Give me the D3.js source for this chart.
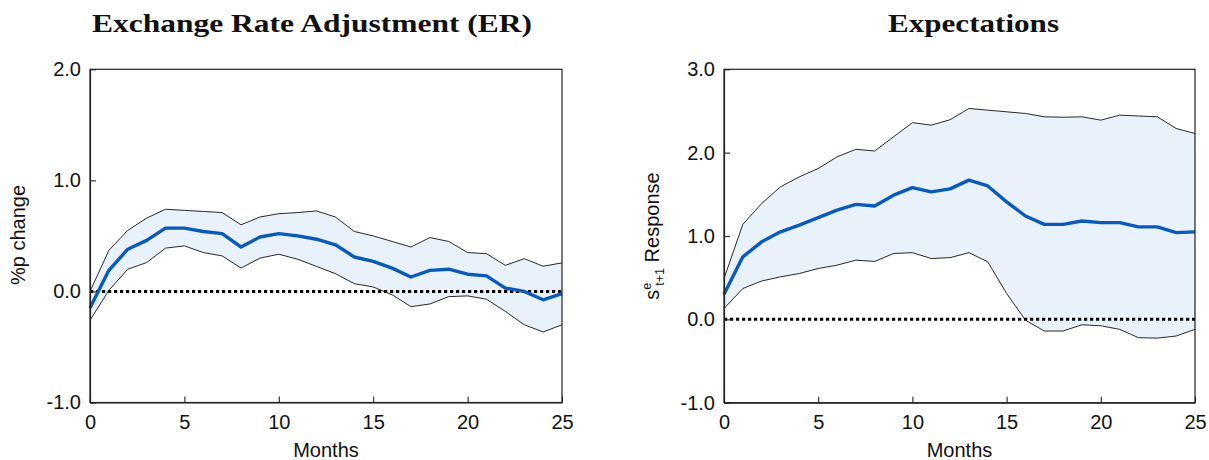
<!DOCTYPE html>
<html>
<head>
<meta charset="utf-8">
<script src="https://cdn.jsdelivr.net/npm/d3@7"></script>
<style>
  html, body { margin: 0; padding: 0; background: #fff; }
  svg { display: block; }
  .tick text { font-family: "Liberation Sans", Arial, sans-serif; font-size: 20px; fill: #111; }
</style>
</head>
<body>
<svg id="chart" width="1209" height="460"></svg>
<script>
// ---------- data ----------
const months = [0,1,2,3,4,5,6,7,8,9,10,11,12,13,14,15,16,17,18,19,20,21,22,23,24,25];
const xTicks = [0, 5, 10, 15, 20, 25];

const erYTicks = [-1, 0, 1, 2];
const erMean  = [-0.15, 0.19, 0.38, 0.46, 0.57, 0.57, 0.54, 0.52, 0.40, 0.49, 0.52, 0.50, 0.47, 0.42, 0.31, 0.27, 0.21, 0.13, 0.19, 0.20, 0.155, 0.14, 0.03, 0.0, -0.075, -0.02];
const erUpper = [0.0, 0.37, 0.55, 0.66, 0.74, 0.73, 0.72, 0.71, 0.60, 0.67, 0.70, 0.71, 0.725, 0.67, 0.54, 0.50, 0.45, 0.40, 0.485, 0.45, 0.35, 0.34, 0.235, 0.295, 0.227, 0.257];
const erLower = [-0.26, 0.01, 0.20, 0.26, 0.39, 0.41, 0.35, 0.32, 0.21, 0.30, 0.335, 0.29, 0.225, 0.16, 0.07, 0.04, -0.03, -0.137, -0.113, -0.047, -0.04, -0.07, -0.18, -0.30, -0.365, -0.30];

const expYTicks = [-1, 0, 1, 2, 3];
const expMean  = [0.30, 0.75, 0.93, 1.05, 1.13, 1.22, 1.31, 1.38, 1.36, 1.49, 1.58, 1.53, 1.565, 1.67, 1.60, 1.41, 1.24, 1.14, 1.14, 1.18, 1.16, 1.16, 1.11, 1.11, 1.04, 1.05];
const expUpper = [0.49, 1.14, 1.39, 1.59, 1.71, 1.81, 1.95, 2.04, 2.02, 2.19, 2.36, 2.33, 2.395, 2.53, 2.51, 2.49, 2.47, 2.43, 2.425, 2.43, 2.39, 2.45, 2.44, 2.43, 2.29, 2.23];
const expLower = [0.13, 0.37, 0.46, 0.51, 0.55, 0.61, 0.65, 0.71, 0.695, 0.79, 0.80, 0.73, 0.74, 0.80, 0.69, 0.31, -0.01, -0.14, -0.14, -0.065, -0.077, -0.12, -0.22, -0.225, -0.20, -0.12];

const titles = ["Exchange Rate Adjustment (ER)", "Expectations"];
const xLabel = "Months";

// ---------- layout ----------
const svg = d3.select("#chart");
const SANS = '"Liberation Sans", Arial, sans-serif';

const panels = [
  { left: 90, right: 562, top: 69.3, bottom: 402.5, yDomain: [-1, 2], yTicks: erYTicks,
    mean: erMean, upper: erUpper, lower: erLower, title: titles[0], titleX: 312, titleW: 440 },
  { left: 724, right: 1195, top: 69.3, bottom: 402.7, yDomain: [-1, 3], yTicks: expYTicks,
    mean: expMean, upper: expUpper, lower: expLower, title: titles[1], titleX: 973.5, titleW: 171 }
];

panels.forEach((p, pi) => {
  const x = d3.scaleLinear().domain([0, 25]).range([p.left, p.right]);
  const y = d3.scaleLinear().domain(p.yDomain).range([p.bottom, p.top]);
  const g = svg.append("g");

  const rows = months.map((m, i) => ({ m, mean: p.mean[i], up: p.upper[i], lo: p.lower[i] }));

  // band
  g.append("path").datum(rows)
    .attr("fill", "#e9f1fa")
    .attr("d", d3.area().x(d => x(d.m)).y0(d => y(d.lo)).y1(d => y(d.up)));

  // zero line
  g.append("line")
    .attr("x1", x(0)).attr("x2", x(25)).attr("y1", y(0)).attr("y2", y(0))
    .attr("stroke", "#000").attr("stroke-width", 3).attr("stroke-dasharray", "3.2,2.8");

  // band edges
  [d => d.up, d => d.lo].forEach(acc => {
    g.append("path").datum(rows)
      .attr("fill", "none").attr("stroke", "#111").attr("stroke-width", 0.9)
      .attr("d", d3.line().x(d => x(d.m)).y(d => y(acc(d))));
  });

  // mean
  g.append("path").datum(rows)
    .attr("fill", "none").attr("stroke", "#0a5bb8").attr("stroke-width", 3.4)
    .attr("stroke-linejoin", "round")
    .attr("d", d3.line().x(d => x(d.m)).y(d => y(d.mean)));

  // frame
  g.append("rect")
    .attr("x", p.left).attr("y", p.top)
    .attr("width", p.right - p.left).attr("height", p.bottom - p.top)
    .attr("fill", "none").attr("stroke", "#222").attr("stroke-width", 1.2);

  // axes
  const yAxis = d3.axisLeft(y).tickValues(p.yTicks).tickFormat(d => d.toFixed(1))
    .tickSizeInner(-6).tickSizeOuter(0).tickPadding(9);
  const ya = g.append("g").attr("transform", `translate(${p.left},0)`).call(yAxis);
  ya.select(".domain").attr("stroke", "#222").attr("stroke-width", 1.2);
  ya.selectAll(".tick line").attr("stroke", "#222").attr("stroke-width", 1.1);

  const xAxis = d3.axisBottom(x).tickValues(xTicks).tickFormat(d => d)
    .tickSizeInner(-6).tickSizeOuter(0).tickPadding(12);
  const xa = g.append("g").attr("transform", `translate(0,${p.bottom})`).call(xAxis);
  xa.select(".domain").attr("stroke", "#222").attr("stroke-width", 1.2);
  xa.selectAll(".tick line").attr("stroke", "#222").attr("stroke-width", 1.1);
  xa.selectAll(".tick text").attr("dy", "0.71em");

  // x label
  g.append("text")
    .attr("x", (p.left + p.right) / 2).attr("y", 457)
    .attr("text-anchor", "middle")
    .style("font-family", SANS).style("font-size", "20px").attr("fill", "#111")
    .text(xLabel);

  // title
  g.append("text")
    .attr("x", p.titleX).attr("y", 32)
    .attr("text-anchor", "middle")
    .attr("textLength", p.titleW).attr("lengthAdjust", "spacingAndGlyphs")
    .style("font-family", '"Liberation Serif", "Times New Roman", serif')
    .style("font-weight", "bold").style("font-size", "26px").attr("fill", "#111")
    .text(p.title);
});

// y labels
svg.append("text")
  .attr("transform", "translate(25,235) rotate(-90)")
  .attr("text-anchor", "middle")
  .style("font-family", SANS).style("font-size", "20px").attr("fill", "#111")
  .text("%p change");

const yl2 = svg.append("text")
  .attr("transform", "translate(659,236) rotate(-90)")
  .attr("text-anchor", "middle")
  .style("font-family", SANS).style("font-size", "20px").attr("fill", "#111");
yl2.append("tspan").text("s");
yl2.append("tspan").attr("dy", -8).style("font-size", "12.5px").text("e");
yl2.append("tspan").attr("dx", -3).attr("dy", 13).style("font-size", "12.5px").text("t+1");
yl2.append("tspan").attr("dy", -5).text(" Response");
</script>
</body>
</html>
